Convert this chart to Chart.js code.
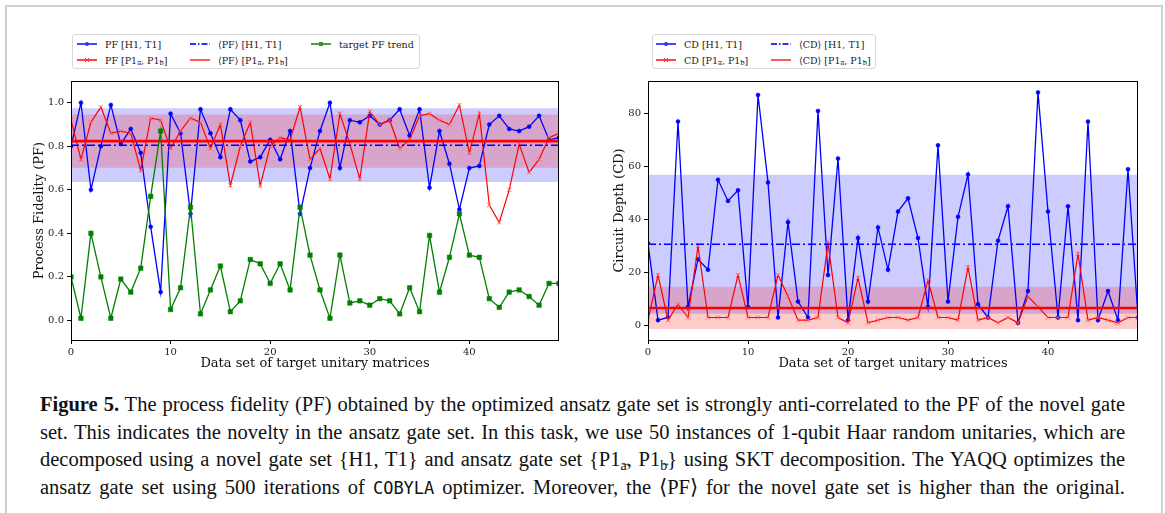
<!DOCTYPE html>
<html>
<head>
<meta charset="utf-8">
<script src="https://cdn.jsdelivr.net/npm/chart.js@4.4.1/dist/chart.umd.min.js"></script>
<style>
  html, body { margin: 0; padding: 0; background: #fff; }
  body { width: 1165px; height: 513px; position: relative; overflow: hidden; font-family: 'DejaVu Serif', serif; }
  #frame { position: absolute; left: 5px; top: 5px; width: 1158px; height: 600px; border: 2px solid #cfcfcf; box-sizing: border-box; }
  canvas { position: absolute; top: 70px; }
  #pfChart { left: 0; }
  #cdChart { left: 580px; }
  .legend { position: absolute; top: 34px; height: 35px; border: 1px solid #d9d9d9; border-radius: 3px; background: #fff; box-sizing: border-box; font-size: 9.5px; color: #222; }
  .legend .item { position: absolute; display: flex; align-items: center; white-space: nowrap; height: 12px; }
  .legend svg { margin-right: 8px; opacity: 0.8; }
  sub { font-size: 68%; line-height: 0; vertical-align: -0.3em; }
  .vec { position: relative; display: inline-block; }
  .vec .arr { position: absolute; left: 0; right: 0; top: -0.75em; text-align: center; font-size: 0.75em; line-height: 1; }
  #caption { position: absolute; left: 40px; top: 391px; width: 1085px; font-family: 'Liberation Serif', serif; font-size: 20.5px; color: #111; }
  #caption .ln { height: 27.5px; line-height: 27.5px; text-align: justify; text-align-last: justify; }
  #caption .tt { font-family: 'DejaVu Sans Mono', monospace; font-size: 17px; }
</style>
</head>
<body>
<div id="frame"></div>
<canvas id="pfChart" width="580" height="305"></canvas>
<canvas id="cdChart" width="585" height="305"></canvas>
<div id="pfLegend" class="legend" style="left:72px;width:348px"></div>
<div id="cdLegend" class="legend" style="left:652px;width:224px"></div>
<div id="caption">
  <div class="ln"><b>Figure 5.</b> The process fidelity (PF) obtained by the optimized ansatz gate set is strongly anti-correlated to the PF of the novel gate</div>
  <div class="ln">set. This indicates the novelty in the ansatz gate set. In this task, we use 50 instances of 1-qubit Haar random unitaries, which are</div>
  <div class="ln">decomposed using a novel gate set {H1, T1} and ansatz gate set {P1<sub><span class="vec">a<span class="arr">&rarr;</span></span></sub>, P1<sub><span class="vec">b<span class="arr">&rarr;</span></span></sub>} using SKT decomposition. The YAQQ optimizes the</div>
  <div class="ln">ansatz gate set using 500 iterations of <span class="tt">COBYLA</span> optimizer. Moreover, the &#10216;PF&#10217; for the novel gate set is higher than the original.</div>
</div>
<script>
// process fidelity per data set (50 Haar random unitaries)
const pfH1T1 = [0.80, 1.00, 0.60, 0.80, 0.99, 0.81, 0.88, 0.77, 0.43, 0.13,
                0.95, 0.86, 0.49, 0.97, 0.86, 0.75, 0.97, 0.92, 0.73, 0.75,
                0.83, 0.74, 0.87, 0.49, 0.70, 0.87, 1.00, 0.70, 0.92, 0.91,
                0.94, 0.90, 0.92, 0.97, 0.85, 0.97, 0.61, 0.87, 0.72, 0.51,
                0.70, 0.71, 0.90, 0.94, 0.88, 0.87, 0.89, 0.94, 0.83, 0.84];
const pfP1 = [0.92, 0.74, 0.91, 0.98, 0.86, 0.87, 0.86, 0.69, 0.93, 0.92,
              0.79, 0.87, 0.93, 0.91, 0.79, 0.90, 0.62, 0.80, 0.91, 0.62,
              0.80, 0.84, 0.83, 0.98, 0.74, 0.79, 0.65, 0.95, 0.81, 0.65,
              0.96, 0.90, 0.92, 0.79, 0.83, 0.94, 0.95, 0.92, 0.90, 0.99,
              0.77, 0.95, 0.53, 0.45, 0.60, 0.81, 0.68, 0.74, 0.84, 0.86];
const pfTarget = [0.20, 0.01, 0.40, 0.20, 0.01, 0.19, 0.13, 0.24, 0.57, 0.87,
                  0.05, 0.15, 0.52, 0.03, 0.14, 0.25, 0.04, 0.09, 0.28, 0.26,
                  0.17, 0.26, 0.14, 0.52, 0.30, 0.14, 0.01, 0.30, 0.08, 0.09,
                  0.07, 0.10, 0.09, 0.03, 0.15, 0.04, 0.39, 0.13, 0.29, 0.49,
                  0.30, 0.29, 0.10, 0.06, 0.13, 0.14, 0.11, 0.07, 0.17, 0.17];

// circuit depth per data set
const cdH1T1 = [31, 2, 3, 77, 7, 25, 21, 55, 47, 51,
                7, 87, 54, 3, 39, 9, 3, 81, 19, 63,
                2, 33, 9, 37, 21, 43, 48, 33, 7, 68,
                9, 41, 57, 8, 3, 32, 45, 1, 13, 88,
                43, 3, 45, 2, 77, 2, 13, 2, 59, 3];
const cdP1 = [2, 19, 2, 8, 3, 30, 3, 3, 3, 19,
              3, 3, 3, 19, 11, 2, 2, 3, 31, 3,
              1, 18, 1, 2, 3, 3, 2, 3, 17, 3,
              3, 2, 22, 2, 3, 1, 3, 1, 11, 7,
              3, 3, 3, 27, 2, 3, 2, 1, 3, 3];

const xTicks = [0, 10, 20, 30, 40];
const pfTicks = [0, 0.2, 0.4, 0.6, 0.8, 1.0];
const cdTicks = [0, 20, 40, 60, 80];

const BLUE = '#0000ff', RED = '#ff0000', GREEN = '#008000';
const xMax = pfH1T1.length - 1;

const mean = a => a.reduce((s, v) => s + v, 0) / a.length;
const std = a => {
    const m = mean(a);
    return Math.sqrt(mean(a.map(v => (v - m) * (v - m))));
};
const pts = a => a.map((v, i) => ({x: i, y: v}));
const flat = v => [{x: 0, y: v}, {x: xMax, y: v}];

Chart.defaults.font.family = "'DejaVu Serif', serif";
Chart.defaults.color = '#222';

// axes box like matplotlib spines
const spines = {
    id: 'spines',
    afterDraw(chart) {
        const {ctx, chartArea: a} = chart;
        ctx.save();
        ctx.strokeStyle = '#000';
        ctx.lineWidth = 1;
        ctx.strokeRect(Math.round(a.left) + 0.5, Math.round(a.top) + 0.5,
            Math.round(a.right - a.left) - 1, Math.round(a.bottom - a.top));
        ctx.restore();
    }
};

function seriesSets(h1, p1) {
    let mh = mean(h1), sh = std(h1), mp = mean(p1), sp = std(p1);
    return [
        {data: pts(h1), borderColor: BLUE, borderWidth: 1.3, pointStyle: 'circle', pointRadius: 2,
            pointBackgroundColor: BLUE, pointBorderColor: BLUE, pointBorderWidth: 0.5, order: 5},
        {data: pts(p1), borderColor: RED, borderWidth: 1.2, pointStyle: 'crossRot', pointRadius: 3,
            pointBorderColor: 'rgba(255,90,90,0.9)', pointBorderWidth: 1, order: 4},
        {data: flat(mh), borderColor: BLUE, borderWidth: 1.5, borderDash: [8, 3, 2, 3], pointRadius: 0, order: 3},
        {data: flat(mp), borderColor: RED, borderWidth: 2.6, pointRadius: 0, order: 2},
        {data: flat(mh + sh), borderColor: 'transparent', pointRadius: 0, order: 9,
            fill: {value: mh - sh}, backgroundColor: 'rgba(0,0,255,0.2)'},
        {data: flat(mp + sp), borderColor: 'transparent', pointRadius: 0, order: 8,
            fill: {value: mp - sp}, backgroundColor: 'rgba(255,0,0,0.2)'}
    ];
}

function makeChart(id, datasets, y, yTitle, yWidth, padRight) {
    return new Chart(document.getElementById(id), {
        type: 'line',
        data: {datasets: datasets},
        options: {
            responsive: false,
            animation: false,
            devicePixelRatio: 1,
            events: [],
            layout: {padding: {top: 11, right: padRight, left: 0, bottom: 0}},
            plugins: {
                legend: {display: false},
                tooltip: {enabled: false},
                filler: {drawTime: 'beforeDatasetsDraw'}
            },
            scales: {
                x: {
                    type: 'linear', min: 0, max: xMax,
                    afterBuildTicks: s => { s.ticks = xTicks.map(v => ({value: v})); },
                    afterFit: s => { s.height = 35; },
                    ticks: {font: {size: 10}, padding: 2, maxRotation: 0, autoSkip: false, color: '#222'},
                    grid: {drawOnChartArea: false, tickLength: 4, color: '#000'},
                    border: {display: false},
                    title: {display: true, text: 'Data set of target unitary matrices', font: {size: 13},
                        color: '#111', padding: {top: 0, bottom: 4}}
                },
                y: {
                    type: 'linear', min: y.min, max: y.max,
                    afterBuildTicks: s => { s.ticks = y.ticks.map(v => ({value: v})); },
                    afterFit: s => { s.width = yWidth; },
                    ticks: {font: {size: 10}, padding: 3, color: '#222', callback: y.fmt},
                    grid: {drawOnChartArea: false, tickLength: 4, color: '#000'},
                    border: {display: false},
                    title: {display: true, text: yTitle, font: {size: 13}, color: '#111', padding: {top: 32, bottom: 0}}
                }
            }
        },
        plugins: [spines]
    });
}

let pfSets = seriesSets(pfH1T1, pfP1);
pfSets.unshift({data: pts(pfTarget), borderColor: GREEN, borderWidth: 1.3, pointStyle: 'rect', pointRadius: 3.2,
    pointBackgroundColor: GREEN, pointBorderColor: GREEN, pointBorderWidth: 0.5, order: 1});

makeChart('pfChart', pfSets, {min: -0.09, max: 1.10, ticks: pfTicks, fmt: v => v.toFixed(1)},
    'Process Fidelity (PF)', 71, 21);
makeChart('cdChart', seriesSets(cdH1T1, cdP1), {min: -5.5, max: 92.3, ticks: cdTicks, fmt: v => String(v)},
    'Circuit Depth (CD)', 68, 27);

// html legends (matplotlib style, two rows)
function swatch(color, kind) {
    let line = '<line x1="0" y1="5" x2="20" y2="5" stroke="' + color + '" stroke-width="' +
        (kind === 'mean' ? 1.6 : 1.8) + '"' + (kind === 'dashdot' ? ' stroke-dasharray="6,2,1.5,2"' : '') + '/>';
    let mark = '';
    if (kind === 'dot') mark = '<circle cx="10" cy="5" r="2" fill="' + color + '"/>';
    if (kind === 'cross') mark = '<path d="M8 3L12 7M12 3L8 7" stroke="' + color + '" stroke-width="1"/>';
    if (kind === 'square') mark = '<rect x="8" y="3" width="4" height="4" fill="' + color + '"/>';
    return '<svg width="20" height="10">' + line + mark + '</svg>';
}

function fillLegend(id, items) {
    let el = document.getElementById(id);
    items.forEach(it => {
        let d = document.createElement('div');
        d.className = 'item';
        d.style.left = it.left + 'px';
        d.style.top = it.top + 'px';
        d.innerHTML = swatch(it.color, it.kind) + '<span>' + it.text + '</span>';
        el.appendChild(d);
    });
}

const vec = c => '<sub><span class="vec">' + c + '<span class="arr">&rarr;</span></span></sub>';
const P1 = '[P1' + vec('a') + ', P1' + vec('b') + ']';
fillLegend('pfLegend', [
    {left: 4, top: 3, color: BLUE, kind: 'dot', text: 'PF [H1, T1]'},
    {left: 4, top: 19, color: RED, kind: 'cross', text: 'PF ' + P1},
    {left: 117, top: 3, color: BLUE, kind: 'dashdot', text: '&#10216;PF&#10217; [H1, T1]'},
    {left: 117, top: 19, color: RED, kind: 'mean', text: '&#10216;PF&#10217; ' + P1},
    {left: 238, top: 3, color: GREEN, kind: 'square', text: 'target PF trend'}
]);
fillLegend('cdLegend', [
    {left: 3, top: 3, color: BLUE, kind: 'dot', text: 'CD [H1, T1]'},
    {left: 3, top: 19, color: RED, kind: 'cross', text: 'CD ' + P1},
    {left: 118, top: 3, color: BLUE, kind: 'dashdot', text: '&#10216;CD&#10217; [H1, T1]'},
    {left: 118, top: 19, color: RED, kind: 'mean', text: '&#10216;CD&#10217; ' + P1}
]);
</script>
</body>
</html>
